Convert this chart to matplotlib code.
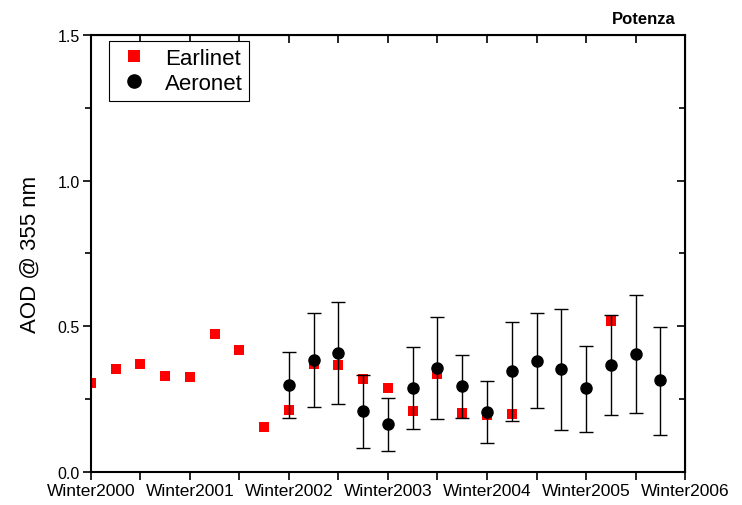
"""
Seasonal AOD at 355 nm over Potenza: Earlinet lidar vs Aeronet sun photometer.
"""

import numpy as np
import matplotlib.pyplot as plt
from matplotlib.lines import Line2D
from matplotlib.ticker import MultipleLocator

plt.rcParams["font.family"] = ["Liberation Sans", "DejaVu Sans"]

# Seasons, counted from Winter2000 (0) in quarter-year steps
seasons = ["Winter", "Spring", "Summer", "Autumn"]
years = list(range(2000, 2007))
season_labels = [f"{s}{y}" for y in years for s in seasons][:25]

# Earlinet seasonal means
earlinet_idx = [0, 1, 2, 3, 4, 5, 6, 7, 8, 9, 10, 11, 12, 13, 14, 15, 16, 17, 21]
earlinet_aod = [0.306, 0.354, 0.371, 0.330, 0.326, 0.474, 0.419, 0.154, 0.213,
                0.372, 0.366, 0.319, 0.289, 0.209, 0.336, 0.203, 0.194, 0.200, 0.518]

# Aeronet seasonal means with lower / upper bounds
aeronet_idx = [8, 9, 10, 11, 12, 13, 14, 15, 16, 17, 18, 19, 20, 21, 22, 23]
aeronet_aod = [0.299, 0.384, 0.410, 0.208, 0.165, 0.289, 0.357, 0.295,
               0.207, 0.346, 0.382, 0.354, 0.287, 0.367, 0.405, 0.316]
aeronet_low = [0.186, 0.224, 0.232, 0.081, 0.073, 0.148, 0.182, 0.186,
               0.100, 0.176, 0.219, 0.145, 0.138, 0.197, 0.203, 0.128]
aeronet_high = [0.411, 0.547, 0.585, 0.332, 0.255, 0.429, 0.532, 0.402,
                0.312, 0.514, 0.547, 0.560, 0.433, 0.540, 0.609, 0.499]

aeronet_aod = np.array(aeronet_aod)
yerr = [aeronet_aod - np.array(aeronet_low), np.array(aeronet_high) - aeronet_aod]

fig = plt.figure(figsize=(7.42, 5.06), dpi=100)
ax = fig.add_axes([0.1226, 0.0652, 0.8006, 0.8637])

ax.plot(earlinet_idx, earlinet_aod, "s", color="red", markersize=7.2,
        markeredgewidth=0, zorder=2)
ax.errorbar(aeronet_idx, aeronet_aod, yerr=yerr, fmt="o", color="black",
            markersize=8, ecolor="black", elinewidth=1, capsize=5, capthick=1,
            zorder=3)

ax.set_xlim(0, 24)
ax.set_ylim(0, 1.5)

# bottom / left ticks point out, with labels only on the winters
ax.set_xticks(range(0, 25, 2))
ax.set_xticklabels([season_labels[i] if i % 4 == 0 else "" for i in range(0, 25, 2)])
ax.yaxis.set_major_locator(MultipleLocator(0.5))
ax.yaxis.set_minor_locator(MultipleLocator(0.25))
ax.yaxis.set_major_formatter(lambda v, p: f"{v:.1f}")
ax.tick_params(direction="out", width=1.2, length=6, pad=2)
ax.tick_params(axis="x", labelsize=12.5)
ax.tick_params(axis="y", labelsize=11.5)
ax.tick_params(which="minor", direction="out", width=1.2, length=4)

# top / right: mirrored ticks pointing in
top = ax.secondary_xaxis("top")
top.set_xticks(range(0, 25, 2))
top.tick_params(direction="in", labeltop=False, width=1.2, length=6)
right = ax.secondary_yaxis("right")
right.yaxis.set_major_locator(MultipleLocator(0.5))
right.yaxis.set_minor_locator(MultipleLocator(0.25))
right.tick_params(direction="in", labelright=False, width=1.2, length=6)
right.tick_params(which="minor", direction="in", width=1.2, length=4)

for s in ["left", "bottom"]:
    ax.spines[s].set_linewidth(1.5)
top.spines["top"].set_linewidth(1.5)
right.spines["right"].set_linewidth(1.5)

ax.set_ylabel("AOD @ 355 nm", fontsize=16)
ax.yaxis.set_label_coords(-0.085, 0.5)
fig.text(0.867, 0.961, "Potenza", fontsize=12, fontweight="bold", ha="center", va="center")

handles = [
    Line2D([], [], ls="none", marker="s", color="red", markersize=8, markeredgewidth=0),
    Line2D([], [], ls="none", marker="o", color="black", markersize=9.5),
]
leg = ax.legend(handles, ["Earlinet", "Aeronet"], loc="upper left",
                bbox_to_anchor=(0.03, 0.986), borderaxespad=0, fontsize=16,
                frameon=True, fancybox=False, edgecolor="black", framealpha=1,
                handletextpad=0.57, borderpad=0.3, labelspacing=0.2,
                handlelength=1.65)
leg.get_frame().set_linewidth(0.8)

fig.savefig("out.png", dpi=100)
